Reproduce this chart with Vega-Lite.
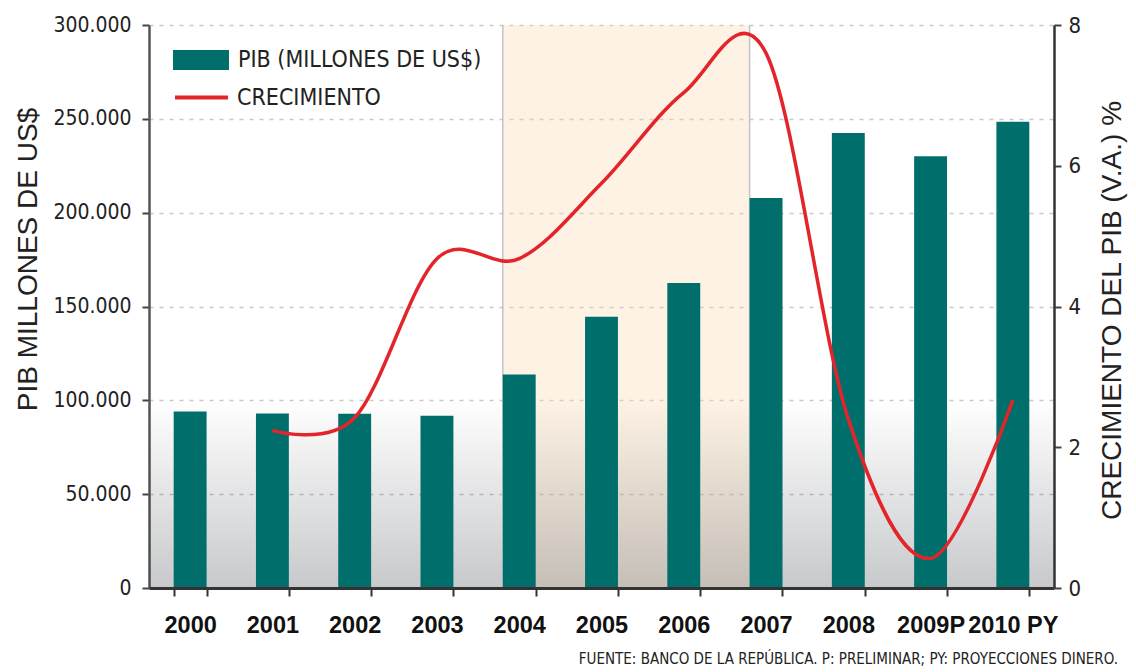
{
  "$schema": "https://vega.github.io/schema/vega-lite/v6.json",
  "width": 905,
  "height": 563,
  "autosize": {"type": "none"},
  "padding": {"left": 149, "top": 25, "right": 82, "bottom": 84},
  "background": "white",
  "title": {
    "text": "FUENTE: BANCO DE LA REPÚBLICA. P: PRELIMINAR; PY: PROYECCIONES DINERO.",
    "orient": "bottom",
    "anchor": "end",
    "frame": "group",
    "dx": 64,
    "offset": 15,
    "font": "DejaVu Sans Condensed, sans-serif",
    "fontSize": 15,
    "fontWeight": "normal",
    "color": "#222222"
  },
  "data": {
    "values": [
      {"anio": "2000", "pib": 94000, "crecimiento": null},
      {"anio": "2001", "pib": 93000, "crecimiento": 2.24},
      {"anio": "2002", "pib": 92800, "crecimiento": 2.42},
      {"anio": "2003", "pib": 91800, "crecimiento": 4.68},
      {"anio": "2004", "pib": 113800, "crecimiento": 4.68},
      {"anio": "2005", "pib": 144500, "crecimiento": 5.75},
      {"anio": "2006", "pib": 162500, "crecimiento": 7.04},
      {"anio": "2007", "pib": 207800, "crecimiento": 7.6},
      {"anio": "2008", "pib": 242500, "crecimiento": 2.4},
      {"anio": "2009P", "pib": 230100, "crecimiento": 0.42},
      {"anio": "2010 PY", "pib": 248400, "crecimiento": 2.67}
    ]
  },
  "layer": [
    {
      "data": {"values": [{}]},
      "mark": {"type": "rect", "color": "#f9d9b0", "opacity": 0.34},
      "encoding": {
        "x": {
          "datum": "2004",
          "type": "nominal",
          "bandPosition": 0,
          "scale": {
            "domain": ["2000", "2001", "2002", "2003", "2004", "2005", "2006", "2007", "2008", "2009P", "2010 PY"],
            "paddingInner": 0.6,
            "paddingOuter": 0.3
          },
          "axis": {
            "title": null,
            "bandPosition": 0.5,
            "labelAngle": 0,
            "tickBand": "extent",
            "labelFont": "Liberation Sans, Arial, sans-serif",
            "labelFontSize": 23.5,
            "labelFontWeight": "bold",
            "labelColor": "#111111",
            "labelPadding": 17,
            "tickSize": 8,
            "tickWidth": 2,
            "tickColor": "#333333",
            "domainColor": "#333333",
            "domainWidth": 3,
            "grid": false
          }
        },
        "x2": {"datum": "2007", "bandPosition": 0}
      }
    },
    {
      "data": {"values": [{}]},
      "mark": {
        "type": "rect",
        "color": {
          "gradient": "linear",
          "x1": 0, "y1": 0, "x2": 0, "y2": 1,
          "stops": [
            {"offset": 0, "color": "rgba(40,45,55,0)"},
            {"offset": 1, "color": "rgba(40,45,55,0.26)"}
          ]
        }
      },
      "encoding": {
        "y": {"datum": 100000, "type": "quantitative", "scale": {"domain": [0, 300000], "nice": false}, "axis": null},
        "y2": {"datum": 0}
      }
    },
    {
      "data": {"values": [{}]},
      "mark": {"type": "rule", "color": "#c4c4c4", "strokeWidth": 1.5},
      "encoding": {
        "x": {"datum": "2004", "type": "nominal", "bandPosition": 0}
      }
    },
    {
      "data": {"values": [{}]},
      "mark": {"type": "rule", "color": "#c4c4c4", "strokeWidth": 1.5},
      "encoding": {
        "x": {"datum": "2007", "type": "nominal", "bandPosition": 0}
      }
    },
    {
      "mark": {"type": "bar", "stroke": null},
      "encoding": {
        "x": {"field": "anio", "type": "nominal", "sort": null},
        "y": {
          "field": "pib",
          "type": "quantitative",
          "scale": {"domain": [0, 300000], "nice": false},
          "axis": {
            "orient": "left",
            "values": [0, 50000, 100000, 150000, 200000, 250000, 300000],
            "labelExpr": "replace(format(datum.value, ','), regexp(',', 'g'), '.')",
            "title": "PIB MILLONES DE US$",
            "titleFont": "Liberation Sans, Arial, sans-serif",
            "titleFontSize": 28,
            "titleFontWeight": "normal",
            "titleColor": "#222222",
            "titleAngle": -90,
            "titleAlign": "center",
            "titleBaseline": "middle",
            "titleX": -121,
            "titleY": 234,
            "labelFont": "DejaVu Sans Condensed, sans-serif",
            "labelFontSize": 21,
            "labelColor": "#222222",
            "labelPadding": 11,
            "tickSize": 7,
            "tickWidth": 2,
            "tickColor": "#444444",
            "domainColor": "#555555",
            "domainWidth": 2.5,
            "grid": true,
            "gridColor": "#c8c8c8",
            "gridDash": [4, 6],
            "gridWidth": 1.5
          }
        },
        "fill": {
          "datum": "PIB (MILLONES DE US$)",
          "type": "nominal",
          "scale": {"range": ["#006f6b"]},
          "legend": {
            "orient": "none",
            "legendX": 24,
            "legendY": 7,
            "title": null,
            "padding": 0,
            "symbolType": "M-1,-0.36L1,-0.36L1,0.36L-1,0.36Z",
            "symbolSize": 3136,
            "symbolStrokeWidth": 0,
            "labelOffset": 9,
            "labelFont": "DejaVu Sans Condensed, sans-serif",
            "labelFontSize": 23,
            "labelColor": "#222222",
            "labelLimit": 400
          }
        }
      }
    },
    {
      "mark": {"type": "line", "interpolate": "cardinal", "strokeWidth": 3.5},
      "encoding": {
        "x": {"field": "anio", "type": "nominal", "sort": null},
        "y": {
          "field": "crecimiento",
          "type": "quantitative",
          "scale": {"domain": [0, 8], "nice": false},
          "axis": {
            "orient": "right",
            "values": [0, 2, 4, 6, 8],
            "title": "CRECIMIENTO DEL PIB (V.A.) %",
            "titleFont": "Liberation Sans, Arial, sans-serif",
            "titleFontSize": 28,
            "titleFontWeight": "normal",
            "titleColor": "#222222",
            "titleAngle": -90,
            "titleAlign": "center",
            "titleBaseline": "middle",
            "titleX": 58,
            "titleY": 285,
            "labelFont": "DejaVu Sans Condensed, sans-serif",
            "labelFontSize": 22,
            "labelColor": "#222222",
            "labelPadding": 7,
            "tickSize": 7,
            "tickWidth": 2,
            "tickColor": "#444444",
            "domainColor": "#333333",
            "domainWidth": 2.5,
            "grid": false
          }
        },
        "stroke": {
          "datum": "CRECIMIENTO",
          "type": "nominal",
          "scale": {"range": ["#e3242b"]},
          "legend": {
            "orient": "none",
            "legendX": 24,
            "legendY": 44,
            "title": null,
            "padding": 0,
            "symbolType": "stroke",
            "symbolSize": 2809,
            "symbolStrokeWidth": 4,
            "labelOffset": 7,
            "labelFont": "DejaVu Sans Condensed, sans-serif",
            "labelFontSize": 23,
            "labelColor": "#222222",
            "labelLimit": 400
          }
        }
      }
    }
  ],
  "resolve": {"scale": {"y": "independent", "fill": "independent", "stroke": "independent"}},
  "config": {
    "view": {"stroke": null}
  }
}
